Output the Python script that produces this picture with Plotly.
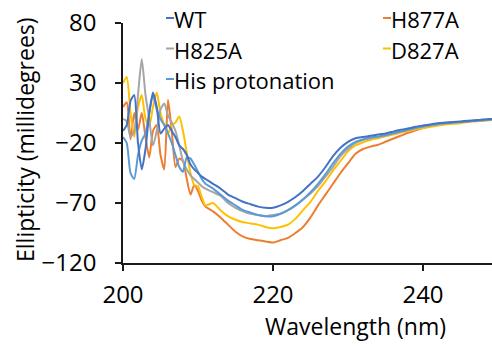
import plotly.graph_objects as go

# Wavelength grid (nm)
wavelength = [200, 200.5, 201, 201.5, 202, 202.5, 203, 203.5, 204, 204.5, 205, 205.5,
              206, 206.5, 207, 207.5, 208, 208.5, 209, 209.5, 210, 210.5,
              211, 212, 213, 214, 215, 216, 217, 218, 219, 220, 221, 222, 223, 224, 225,
              226, 227, 228, 229, 230, 231, 232, 233, 234, 235, 236, 237, 238, 239, 240,
              241, 242, 243, 244, 245, 246, 247, 248, 249, 250]

series_names = ["WT", "H825A", "His protonation", "H877A", "D827A"]
series_colors = ["#4472C4", "#A5A5A5", "#5B9BD5", "#ED7D31", "#FFC000"]

wt = [-10, -5, 15, 20, -20, -42, -25, 5, 22, 10, -12, -8,
      -5, -10, -15, -22, -25, -30, -38, -42, -45, -48,
      -50, -54, -58, -63, -66, -69, -71, -73, -74, -74, -72, -69, -65, -60, -54,
      -48, -40, -31, -24, -19, -16, -15, -14, -13, -12, -10.5, -9, -8, -6.5, -5.5,
      -4.5, -3.5, -3, -2.5, -2, -1.5, -1, -0.5, 0, 0.5]

h825a = [0, -2, -15, -10, 20, 50, 20, 0, -22, -10, 8, 13,
         3, -3, -10, -22, -35, -42, -47, -50, -53, -56,
         -58, -61, -64, -70, -74, -77, -79, -80, -81, -80, -79, -76, -72, -67, -62,
         -56, -48, -40, -31, -25, -20, -17.5, -16, -15, -13.5, -12, -10.5, -9, -7.5, -6.5,
         -5.5, -4.5, -3.5, -3, -2.5, -2, -1.5, -1, -0.5, 0]

his_prot = [-15, -20, -45, -50, -30, -18, -12, 5, 20, 8, 0, -5,
            -12, -20, -30, -40, -44, -32, -33, -38, -44, -50,
            -54, -58, -63, -68, -72, -76, -78, -80, -81, -81, -79, -76, -72, -67, -61,
            -54, -46, -37, -29, -23, -19, -17, -15.5, -14.5, -13.5, -12, -10.5, -9, -7.5, -6,
            -5, -4, -3.5, -3, -2.5, -2, -1.5, -1, -0.5, 0]

h877a = [10, 14, -17, 5, -9, 5, -15, -32, -10, -5, -30, -42,
         16, -10, -40, -33, -35, -50, -63, -55, -60, -68,
         -73, -77, -82, -88, -94, -98, -100, -101, -102, -103, -101, -99, -95, -90, -82,
         -72, -63, -54, -45, -37, -29, -25, -23, -21.5, -19, -16.5, -14, -11.5, -9.5, -7.5,
         -6, -5, -4, -3, -2.5, -2, -1.5, -1, -0.5, 0]

d827a = [30, 35, 5, -15, 10, 20, 0, -6, 10, 22, 5, -5,
         -12, -5, -3, 2, -10, -28, -45, -55, -56, -65,
         -72, -70, -76, -81, -84, -86, -87, -88, -90, -91, -90, -88, -83, -76, -69,
         -60, -52, -43, -35, -27, -22, -19.5, -17.5, -16, -14.5, -13, -11.5, -10, -8.5, -7.5,
         -6.5, -5.5, -4.5, -4, -3.5, -2.5, -2, -1.5, -1, -0.5]

series_values = [wt, h825a, his_prot, h877a, d827a]

x_ticks = [200, 220, 240]
y_ticks = [-120, -70, -20, 30, 80]

FONT = "Open Sans"
FS_TICK = 24
FS_TEXT = 23
FS_LEGEND = 22
AXIS_COLOR = "#1a1a1a"

fig = go.Figure()
draw_order = [3, 4, 1, 2, 0]
for i in draw_order:
    fig.add_trace(go.Scatter(
        x=wavelength, y=series_values[i], mode="lines", name=series_names[i],
        line=dict(color=series_colors[i], width=2, shape="spline", smoothing=0.6),
        showlegend=False, hoverinfo="skip"))

W, H = 492, 347
L, R, T, B = 123, 0, 23, 84
pw, ph = W - L - R, H - T - B

def px_to_paper(x, y):
    return (x - L) / pw, (H - B - y) / ph

legend_pos = {
    "WT": (173, 19), "H825A": (173, 49.5), "His protonation": (173, 80),
    "H877A": (390, 19), "D827A": (390, 49.5),
}
for name, color in zip(series_names, series_colors):
    tx, ty = legend_pos[name]
    xp, yp = px_to_paper(tx, ty)
    x0, _ = px_to_paper(tx - 7, ty - 1)
    x1, _ = px_to_paper(tx + 1, ty - 1)
    _, ys = px_to_paper(tx, ty - 1)
    fig.add_shape(type="line", xref="paper", yref="paper", x0=x0, x1=x1, y0=ys, y1=ys,
                  line=dict(color=color, width=2))
    fig.add_annotation(text=name, xref="paper", yref="paper", x=xp, y=yp,
                       xanchor="left", yanchor="middle", showarrow=False, borderpad=0,
                       font=dict(family=FONT, size=FS_LEGEND, color="black"))

xt, yt = px_to_paper(355, 326)
fig.add_annotation(text="Wavelength (nm)", xref="paper", yref="paper", x=xt, y=yt,
                   xanchor="center", yanchor="middle", showarrow=False,
                   font=dict(family=FONT, size=FS_TEXT, color="black"))
xt, yt = px_to_paper(25, 140)
fig.add_annotation(text="Ellipticity (millidegrees)", xref="paper", yref="paper", x=xt, y=yt,
                   xanchor="center", yanchor="middle", showarrow=False, textangle=-90,
                   font=dict(family=FONT, size=FS_TEXT, color="black"))

fig.update_layout(
    width=W, height=H, margin=dict(l=L, r=R, t=T, b=B),
    paper_bgcolor="white", plot_bgcolor="white",
    font=dict(family=FONT, size=FS_TICK, color="black"),
    showlegend=False,
    xaxis=dict(range=[200, 249.2], tickvals=x_ticks, showgrid=False, zeroline=False,
               showline=True, linecolor=AXIS_COLOR, linewidth=1.5,
               ticks="outside", ticklen=6, tickwidth=1.5, tickcolor=AXIS_COLOR,
               ticklabelstandoff=3, tickfont=dict(size=FS_TICK)),
    yaxis=dict(range=[-120, 80], tickvals=y_ticks, showgrid=False, zeroline=False,
               showline=True, linecolor=AXIS_COLOR, linewidth=1.5,
               ticks="outside", ticklen=6, tickwidth=1.5, tickcolor=AXIS_COLOR,
               ticklabelstandoff=14, tickfont=dict(size=FS_TICK)),
)

fig.write_html("out.html")
